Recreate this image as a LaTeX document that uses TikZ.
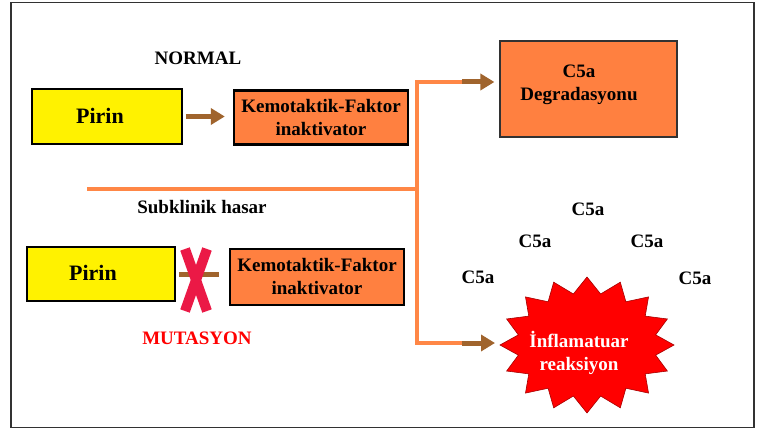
\documentclass[tikz,border=0pt]{standalone}
\usepackage{fontspec}
\setmainfont{Liberation Serif}
\newfontfamily\dfont{Liberation Serif Bold}
\usetikzlibrary{arrows.meta}
\definecolor{boxorange}{RGB}{255,128,64}
\definecolor{lineorange}{RGB}{255,135,70}
\definecolor{arrowbrown}{RGB}{160,100,45}
\definecolor{xred}{RGB}{235,25,70}
\definecolor{framegray}{RGB}{50,50,50}
\begin{document}
\begin{tikzpicture}[x=1pt,y=-1pt,
  lbl/.style={font=\dfont\fontsize{19}{23}\selectfont, align=center, inner sep=0pt},
  pirinbox/.style={draw=black, line width=1.6pt, fill=yellow, minimum width=150pt, minimum height=55pt, inner sep=0pt},
  pirintext/.style={font=\dfont\fontsize{22}{26}\selectfont, inner sep=0pt},
  kfbox/.style={lbl, draw=black, line width=2.4pt, fill=boxorange, minimum width=174pt, minimum height=54pt},
  degbox/.style={draw=framegray, line width=1.2pt, fill=boxorange, minimum width=177pt, minimum height=96pt, inner sep=0pt},
  brownarrow/.style={draw=arrowbrown, line width=5pt, -{Triangle[length=14pt,width=16pt]}},
  orangeline/.style={draw=lineorange, line width=4pt},
]
\useasboundingbox (0,0) rectangle (757,430);
\fill[white] (0,0) rectangle (757,430);
\draw[line width=1.5pt, draw=framegray] (11,2.5) rectangle (754,427.5);

% top row
\node[lbl] (normal) at (198,58) {NORMAL};
\node[pirinbox] (pirin1) at (107,116.5) {};
\node[pirintext] (pirin1t) at (100,116) {Pirin};
\node[kfbox] (kf1) at (321,117.5) {Kemotaktik-Faktor\\inaktivator};
\draw[brownarrow, shorten <=3pt, shorten >=8pt] (pirin1.east) -- (kf1.west |- pirin1.east);

% degradation box
\node[degbox] (deg) at (588.5,89) {};
\node[lbl] (degtext) at (579,85) {C5a\\Degradasyonu};

% orange connectors
\coordinate (hl) at (87,189);
\coordinate (vj) at (417,189);
\coordinate (vt) at (417,82);
\coordinate (vb) at (417,343);
\coordinate (at) at (468,82);
\coordinate (ab) at (468,343);
\coordinate (burstL) at (502,343);
\draw[orangeline] (hl) -- (vj);
\draw[orangeline, line join=miter] (at) -- (vt) -- (vb) -- (ab);
\draw[brownarrow, shorten >=5pt] ([xshift=-6pt]at) -- (at -| deg.west);
\draw[brownarrow, shorten >=7pt] ([xshift=-6pt]ab) -- (burstL);

\node[lbl] (subk) at (202,207) {Subklinik hasar};

% bottom row
\node[pirinbox, minimum width=148pt, minimum height=54pt] (pirin2) at (101,274) {};
\node[pirintext] (pirin2t) at (93,273) {Pirin};
\node[kfbox, minimum height=56pt] (kf2) at (317,277) {Kemotaktik-Faktor\\inaktivator};
\draw[draw=arrowbrown, line width=5pt, shorten <=3pt, shorten >=10pt] (pirin2.east) -- (kf2.west |- pirin2.east);
\draw[xred, line width=10pt] (185,249) -- (207,311);
\draw[xred, line width=10pt] (207,249) -- (185,311);
\node[lbl, text=red] (mut) at (197,338) {MUTASYON};

% C5a labels
\node[lbl] (c1) at (588,209) {C5a};
\node[lbl] (c2) at (535,241) {C5a};
\node[lbl] (c3) at (647,241) {C5a};
\node[lbl] (c4) at (478,277) {C5a};
\node[lbl] (c5) at (695,278) {C5a};

% starburst
\fill[red, draw=red!65!black, line width=0.6pt]
  plot[samples=33, domain=0:32, variable=\k]
  ({587 + (mod(round(\k),2)==0 ? 87 : 70)*cos(90+\k*11.25)},
   {345 - (mod(round(\k),2)==0 ? 68 : 52)*sin(90+\k*11.25)}) -- cycle;
\node[lbl, text=white] (burst) at (579,353) {İnflamatuar\\reaksiyon};
\end{tikzpicture}
\end{document}
